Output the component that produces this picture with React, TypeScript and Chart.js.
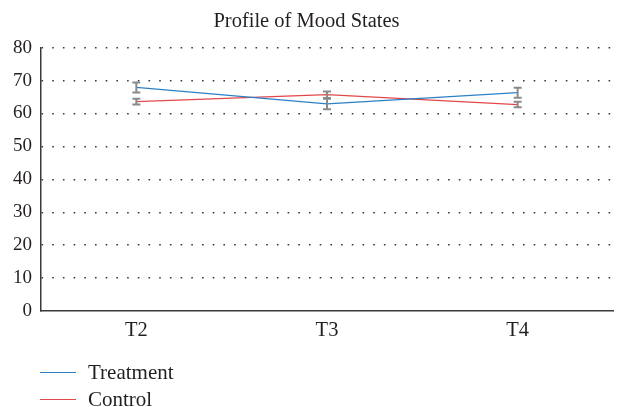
import React, { useEffect, useRef } from "react";
import { Chart, registerables } from "chart.js";

Chart.register(...registerables);

const categories = ["T2", "T3", "T4"];
const seriesNames = ["Treatment", "Control"];
const treatmentMean = [67.9, 62.9, 66.3];
const treatmentErr = [1.5, 1.6, 1.5];
const controlMean = [63.6, 65.7, 62.7];
const controlErr = [0.9, 1.0, 0.85];
const yMin = 0;
const yMax = 80;
const yStep = 10;

const BLUE = "#2b80c5";
const RED = "#e2474b";
const FONT = "'Liberation Serif', 'DejaVu Serif', serif";
const TEXT = "#231f20";

const errorBarPlugin = {
  id: "errorBars",
  afterDatasetsDraw(chart: any) {
    const { ctx, scales } = chart;
    const xs = scales.x;
    const ys = scales.y;
    ctx.save();
    ctx.strokeStyle = "#8a8a8a";
    ctx.lineWidth = 2;
    chart.data.datasets.forEach((ds: any) => {
      const errs: number[] = ds.errors || [];
      ds.data.forEach((v: number, i: number) => {
        const e = errs[i];
        if (e == null) return;
        const x = xs.getPixelForValue(i);
        const yt = ys.getPixelForValue(v + e);
        const yb = ys.getPixelForValue(v - e);
        ctx.beginPath();
        ctx.moveTo(x, yt);
        ctx.lineTo(x, yb);
        ctx.moveTo(x - 4, yt);
        ctx.lineTo(x + 4, yt);
        ctx.moveTo(x - 4, yb);
        ctx.lineTo(x + 4, yb);
        ctx.stroke();
      });
    });
    ctx.restore();
  },
};

export default function App() {
  const ref = useRef<HTMLCanvasElement | null>(null);

  useEffect(() => {
    if (!ref.current) return;
    const chart = new Chart(ref.current, {
      type: "line",
      data: {
        labels: categories,
        datasets: [
          {
            label: seriesNames[0],
            data: treatmentMean,
            errors: treatmentErr,
            borderColor: BLUE,
            backgroundColor: BLUE,
            borderWidth: 1.3,
            pointRadius: 0,
            tension: 0,
          } as any,
          {
            label: seriesNames[1],
            data: controlMean,
            errors: controlErr,
            borderColor: RED,
            backgroundColor: RED,
            borderWidth: 1.3,
            pointRadius: 0,
            tension: 0,
          } as any,
        ],
      },
      options: {
        animation: false,
        responsive: false,
        maintainAspectRatio: false,
        layout: { padding: { left: 0, right: 6, top: 0, bottom: 62 } },
        plugins: {
          legend: { display: false },
          tooltip: { enabled: false },
          title: {
            display: true,
            text: "Profile of Mood States",
            color: TEXT,
            font: { family: FONT, size: 20.5, weight: "normal" },
            padding: { top: 9, bottom: 14 },
          },
        },
        scales: {
          x: {
            type: "category",
            offset: true,
            grid: { display: false, drawTicks: false },
            border: { display: true, color: "#3a3a3a", width: 1.5 },
            ticks: {
              color: TEXT,
              font: { family: FONT, size: 20.5 },
              padding: 7,
            },
            afterFit: (s: any) => {
              s.height = 34;
            },
          },
          y: {
            min: yMin,
            max: yMax,
            grid: {
              drawTicks: false,
              color: (c: any) => (c.tick && c.tick.value === 0 ? "rgba(0,0,0,0)" : "#3a3a3a"),
              lineWidth: 1.4,
            },
            border: { display: true, color: "#3a3a3a", width: 1.5, dash: [1.6, 9.1] },
            ticks: {
              stepSize: yStep,
              color: TEXT,
              font: { family: FONT, size: 19 },
              padding: 9,
            },
            afterFit: (s: any) => {
              s.width = 41;
            },
          },
        },
      },
      plugins: [errorBarPlugin],
    });
    return () => chart.destroy();
  }, []);

  const legendItems = [
    { name: seriesNames[0], color: BLUE, top: 372.5 },
    { name: seriesNames[1], color: RED, top: 399.5 },
  ];

  return (
    <div style={{ position: "fixed", left: 0, top: 0, width: 619, height: 407, background: "#fff" }}>
      <canvas ref={ref} width={619} height={407} style={{ display: "block" }} />
      {legendItems.map((it) => (
        <div
          key={it.name}
          style={{
            position: "absolute",
            left: 40,
            top: it.top - 14,
            height: 28,
            display: "flex",
            alignItems: "center",
            fontFamily: FONT,
            fontSize: 21,
            color: TEXT,
            whiteSpace: "nowrap",
          }}
        >
          <span style={{ display: "inline-block", width: 36, height: 1.5, background: it.color, marginRight: 12 }} />
          <span>{it.name}</span>
        </div>
      ))}
    </div>
  );
}
